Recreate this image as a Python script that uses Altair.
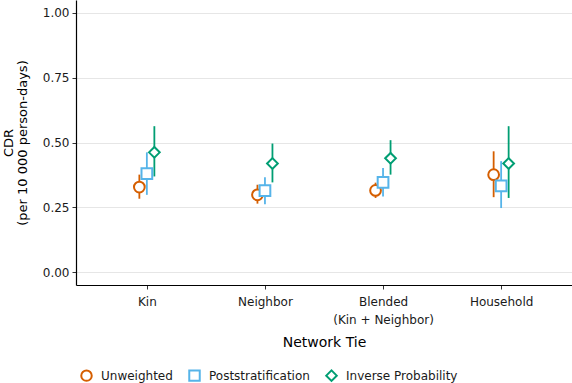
import altair as alt
import pandas as pd

# Network ties and weighting schemes
ties = ["Kin", "Neighbor", "Blended (Kin + Neighbor)", "Household"]
methods = ["Unweighted", "Poststratification", "Inverse Probability"]

# Contact-discovery rate estimates with 95% intervals (rows follow ties, columns follow methods)
estimate = [
    [0.328, 0.380, 0.462],
    [0.298, 0.314, 0.419],
    [0.315, 0.346, 0.439],
    [0.376, 0.333, 0.419],
]
lower = [
    [0.283, 0.298, 0.369],
    [0.264, 0.262, 0.346],
    [0.286, 0.292, 0.376],
    [0.289, 0.247, 0.286],
]
upper = [
    [0.376, 0.462, 0.563],
    [0.337, 0.366, 0.496],
    [0.345, 0.402, 0.509],
    [0.466, 0.428, 0.563],
]

colors = ["#D55E00", "#56B4E9", "#009E73"]
shapes = ["circle", "square", "diamond"]

rows = []
for i, tie in enumerate(ties):
    for j, m in enumerate(methods):
        rows.append({"tie": tie, "method": m, "est": estimate[i][j],
                     "lo": lower[i][j], "hi": upper[i][j]})
df = pd.DataFrame(rows)

FONT = "DejaVu Sans"

x_enc = alt.X(
    "tie:N",
    sort=ties,
    scale=alt.Scale(type="point", padding=0.6),
    axis=alt.Axis(
        title="Network Tie",
        labelAngle=0,
        labelExpr="datum.value == 'Blended (Kin + Neighbor)' ? ['Blended', '(Kin + Neighbor)'] : datum.label",
        labelFontSize=12,
        labelLineHeight=18,
        labelColor="#1a1a1a",
        labelPadding=7,
        titleFontSize=14,
        titleFontWeight="normal",
        titleColor="#000000",
        titlePadding=10,
        domainColor="#000000",
        domainWidth=1.2,
        tickColor="#333333",
        tickSize=4,
        grid=False,
    ),
)
xoff = alt.XOffset("method:N", sort=methods,
                   scale=alt.Scale(type="point", domain=methods, range=[-7.5, 7.5], padding=0))

y_scale = alt.Scale(domain=[-0.05, 1.05], nice=False, zero=False)
y_axis = alt.Axis(
    title=["CDR", "(per 10 000 person-days)"],
    values=[0, 0.25, 0.5, 0.75, 1.0],
    format=".2f",
    labelFontSize=12,
    labelColor="#1a1a1a",
    labelPadding=3,
    titleFontSize=13,
    titleLineHeight=14,
    titleFontWeight="normal",
    titleColor="#000000",
    titlePadding=13,
    domainColor="#000000",
    domainWidth=1.2,
    tickColor="#333333",
    tickSize=4,
    grid=True,
    gridColor="#E6E6E6",
    gridWidth=1,
)

legend = alt.Legend(title=None, orient="none", direction="horizontal",
                    legendX=4, legendY=369, padding=0,
                    labelFontSize=12, labelFont=FONT, labelColor="#1a1a1a",
                    symbolSize=110, symbolStrokeWidth=2,
                    symbolFillColor="white", columnPadding=12,
                    labelOffset=8)

color_enc = alt.Color("method:N", sort=methods,
                      scale=alt.Scale(domain=methods, range=colors), legend=legend)
shape_enc = alt.Shape("method:N", sort=methods,
                      scale=alt.Scale(domain=methods, range=shapes), legend=legend)

base = alt.Chart(df)

# vertical interval lines
bars = base.mark_rule(strokeWidth=1.8).encode(
    x=x_enc, xOffset=xoff,
    y=alt.Y("lo:Q", scale=y_scale, axis=y_axis),
    y2="hi:Q",
    color=color_enc,
)

# hollow point estimates drawn over the intervals
points = base.mark_point(filled=False, fill="white", fillOpacity=1,
                         strokeWidth=2, size=115, opacity=1).encode(
    x=x_enc, xOffset=xoff,
    y=alt.Y("est:Q", scale=y_scale),
    color=color_enc,
    shape=shape_enc,
)

chart = (
    alt.layer(bars, points)
    .properties(width=496, height=285,
                padding={"left": 76, "top": 0, "right": 0, "bottom": 98},
                autosize=alt.AutoSizeParams(type="none"))
    .configure(font=FONT)
    .configure_view(stroke=None)
)

chart.save("out.html", embed_options={"renderer": "svg", "actions": False})
